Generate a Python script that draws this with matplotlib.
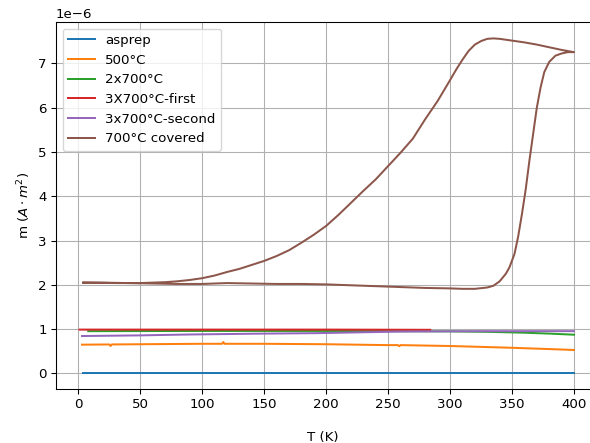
import matplotlib
matplotlib.use("Agg")
import matplotlib.pyplot as plt

# values in units of 1e-6 A*m^2
T_asprep = [4, 100, 200, 300, 400]
m_asprep = [0.0, 0.0, 0.0, 0.0, 0.0]

T_500 = [3, 25, 26, 27, 50, 100, 116, 117, 118, 150, 200, 250, 258, 259, 260, 300, 350, 386, 400]
m_500 = [0.65, 0.655, 0.62, 0.655, 0.66, 0.67, 0.67, 0.71, 0.67, 0.67, 0.66, 0.64, 0.64, 0.615, 0.64, 0.62, 0.58, 0.545, 0.53]

T_2x700 = [8, 100, 200, 250, 300, 330, 360, 380, 400]
m_2x700 = [0.955, 0.96, 0.96, 0.955, 0.95, 0.94, 0.92, 0.90, 0.875]

T_3x700_first = [1, 100, 200, 284]
m_3x700_first = [0.99, 0.99, 0.99, 0.985]

T_3x700_second = [3, 50, 90, 150, 192, 230, 258, 290, 327, 360, 400]
m_3x700_second = [0.845, 0.86, 0.88, 0.90, 0.91, 0.93, 0.945, 0.95, 0.955, 0.955, 0.955]

# 700°C covered: heating branch then cooling branch
T_cov_up = [4, 20, 40, 60, 80, 100, 120, 140, 160, 180, 200, 220, 240, 260, 280, 300, 310, 320,
            330, 335, 340, 345, 348, 352, 355, 358, 361, 364, 367, 370, 373, 376, 380, 385, 390, 395, 400]
m_cov_up = [2.05, 2.05, 2.04, 2.03, 2.02, 2.02, 2.04, 2.03, 2.02, 2.02, 2.01, 1.99, 1.97, 1.95, 1.93, 1.92, 1.91, 1.91,
            1.94, 1.98, 2.08, 2.25, 2.40, 2.70, 3.10, 3.60, 4.15, 4.80, 5.40, 6.00, 6.45, 6.80, 7.03, 7.17, 7.22, 7.25, 7.25]
T_cov_down = [400, 390, 380, 370, 360, 350, 340, 335, 330, 325, 320, 315, 310, 305, 300, 290, 280, 270, 260,
              250, 240, 230, 220, 210, 200, 190, 180, 170, 160, 150, 140, 130, 120, 110, 100, 90, 80, 70,
              60, 50, 30, 4]
m_cov_down = [7.25, 7.30, 7.36, 7.42, 7.47, 7.51, 7.55, 7.56, 7.55, 7.50, 7.42, 7.28, 7.08, 6.86, 6.62, 6.15, 5.74,
              5.30, 4.98, 4.68, 4.38, 4.12, 3.85, 3.58, 3.33, 3.13, 2.95, 2.78, 2.65, 2.54, 2.45, 2.36, 2.29,
              2.21, 2.15, 2.11, 2.08, 2.06, 2.05, 2.04, 2.04, 2.05]

labels = ["asprep", "500°C", "2x700°C", "3X700°C-first", "3x700°C-second", "700°C covered"]

def scale(vals):
    return [v * 1e-6 for v in vals]

dpi = 96
fig = plt.figure(figsize=(590 / dpi, 443 / dpi), dpi=dpi)
# the original is cropped at the right: axes run to the picture edge, no right spine
ax = fig.add_axes([56 / 590, 1 - 389 / 443, 534 / 590, 367 / 443])
ax.spines["right"].set_visible(False)

ax.plot(T_asprep, scale(m_asprep), label=labels[0])
ax.plot(T_500, scale(m_500), label=labels[1])
ax.plot(T_2x700, scale(m_2x700), label=labels[2])
ax.plot(T_3x700_first, scale(m_3x700_first), label=labels[3])
ax.plot(T_3x700_second, scale(m_3x700_second), label=labels[4])
ax.plot(T_cov_up + T_cov_down, scale(m_cov_up + m_cov_down), label=labels[5])

ax.set_xlim(-18, 412.9)
ax.set_ylim(-0.35e-6, 7.93e-6)
ax.set_xticks([0, 50, 100, 150, 200, 250, 300, 350, 400])
ax.set_xlabel("T (K)", labelpad=15)
ax.set_ylabel(r"m ($A\cdot m^2$)")
ax.grid(True)
ax.legend(loc="upper left")

fig.savefig("out.png", dpi=dpi)
